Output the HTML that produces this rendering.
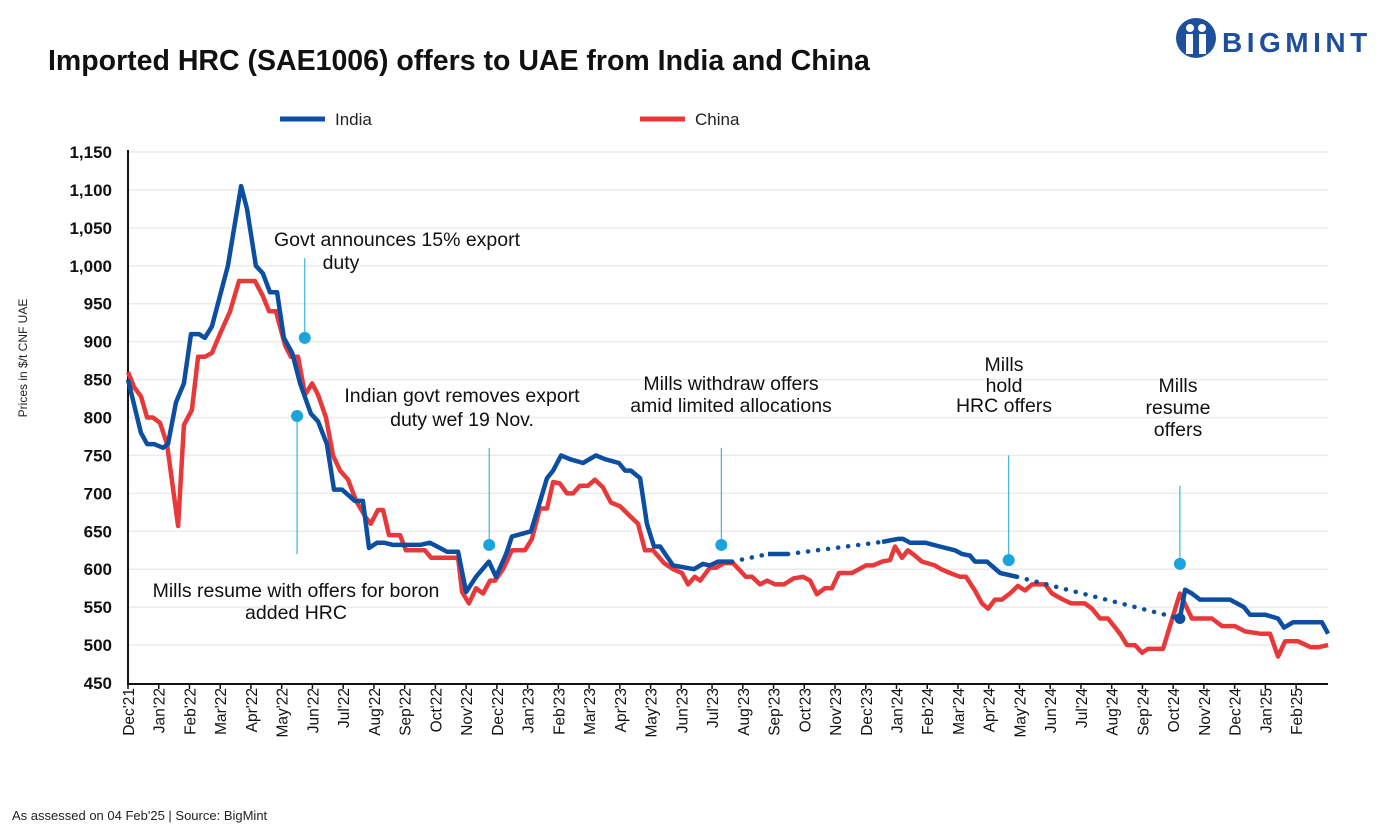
<!DOCTYPE html>
<html><head><meta charset="utf-8"><style>
body{margin:0;background:#fff;font-family:"Liberation Sans",sans-serif}
svg text{font-family:"Liberation Sans",sans-serif}
</style></head><body>
<svg id="chart" width="1387" height="832" viewBox="0 0 1387 832">
<text x="48" y="70" font-size="28.5" font-weight="bold" fill="#111">Imported HRC (SAE1006) offers to UAE from India and China</text>
<g>
<circle cx="1196" cy="38" r="20" fill="#1d4f9c"/>
<circle cx="1190" cy="28" r="4" fill="#fff"/><circle cx="1202" cy="28" r="4" fill="#fff"/>
<rect x="1186" y="34" width="7" height="20" fill="#fff"/><rect x="1199" y="34" width="7" height="20" fill="#fff"/>
<text x="1222" y="52" font-size="28" font-weight="bold" fill="#1d4f9c" letter-spacing="4.5">BIGMINT</text>
</g>
<g>
<line x1="280" y1="119" x2="325" y2="119" stroke="#0b4ea2" stroke-width="5"/>
<text x="335" y="125" font-size="17" fill="#222">India</text>
<line x1="640" y1="119" x2="685" y2="119" stroke="#e8383a" stroke-width="5"/>
<text x="695" y="125" font-size="17" fill="#222">China</text>
</g>
<text transform="translate(27,358) rotate(-90)" text-anchor="middle" font-size="12" fill="#222">Prices in $/t CNF UAE</text>
<g id="grid"></g><g id="axes"></g><g id="annot"></g><g id="series"></g>
<text x="12" y="820" font-size="13" fill="#222">As assessed on 04 Feb'25 | Source: BigMint</text>
</svg>
<script>
const monthLabels=["Dec'21","Jan'22","Feb'22","Mar'22","Apr'22","May'22","Jun'22","Jul'22","Aug'22","Sep'22","Oct'22","Nov'22","Dec'22","Jan'23","Feb'23","Mar'23","Apr'23","May'23","Jun'23","Jul'23","Aug'23","Sep'23","Oct'23","Nov'23","Dec'23","Jan'24","Feb'24","Mar'24","Apr'24","May'24","Jun'24","Jul'24","Aug'24","Sep'24","Oct'24","Nov'24","Dec'24","Jan'25","Feb'25"];
const yTicks=[450,500,550,600,650,700,750,800,850,900,950,1000,1050,1100,1150];
const indiaT=[0,0.42,0.62,0.85,1.14,1.3,1.56,1.82,2.05,2.31,2.5,2.73,3.25,3.68,3.87,4.16,4.39,4.62,4.85,5.07,5.34,5.6,5.95,6.18,6.47,6.7,6.96,7.38,7.64,7.84,8.1,8.33,8.62,9.5,9.82,10.15,10.38,10.74,11,11.32,11.74,11.97,12.3,12.49,13.11,13.63,13.83,14.09,14.38,14.8,15.22,15.52,15.97,16.17,16.36,16.66,16.88,17.11,17.31,17.73,18.41,18.7,18.93,19.19,19.65,20.82,21.47,24.53,25.05,25.21,25.44,25.93,26.41,26.9,27.13,27.39,27.55,27.94,28.37,28.92,34.22,34.39,34.61,34.87,35.85,36.3,36.5,36.99,37.41,37.61,37.9,38.84,39.04];
const indiaV=[850,780,765,765,760,765,820,845,910,910,905,920,1000,1105,1075,1000,990,965,965,905,885,845,805,795,765,705,705,690,690,628,635,635,632,632,635,628,623,623,570,590,610,590,620,643,650,720,730,750,745,740,750,745,740,730,730,720,660,630,630,605,600,607,605,610,610,620,620,636,640,640,635,635,630,625,620,618,610,610,595,590,535,573,568,560,560,550,540,540,535,523,530,530,515];
const indiaDottedAfter=[19.65,21.47,28.92];
const chinaT=[0,0.2,0.42,0.62,0.81,1.04,1.27,1.63,1.82,2.08,2.28,2.5,2.73,2.99,3.32,3.61,4.13,4.39,4.59,4.81,5.11,5.3,5.53,5.76,5.99,6.18,6.44,6.67,6.9,7.16,7.42,7.74,7.9,8.13,8.3,8.49,8.85,9.04,9.66,9.86,10.74,10.87,11.09,11.32,11.55,11.78,11.94,12.2,12.49,12.91,13.14,13.4,13.63,13.83,14.05,14.28,14.48,14.7,14.96,15.19,15.45,15.71,16.01,16.33,16.59,16.82,17.08,17.44,17.73,18.02,18.22,18.44,18.61,18.93,19.13,19.39,19.68,20.1,20.3,20.56,20.79,21.05,21.34,21.66,21.96,22.19,22.41,22.67,22.9,23.13,23.55,23.78,24.01,24.24,24.53,24.79,24.95,25.18,25.37,25.6,25.83,26.25,26.45,26.74,27.07,27.26,27.55,27.78,27.98,28.2,28.43,28.69,28.95,29.18,29.41,29.83,30.06,30.42,30.68,31.13,31.36,31.62,31.88,32.27,32.5,32.76,32.99,33.18,33.67,34.22,34.61,35.26,35.59,36.01,36.34,36.83,37.15,37.41,37.64,38.06,38.48,38.71,39.04];
const chinaV=[860,840,828,800,800,793,765,657,790,810,880,880,885,910,940,980,980,960,940,940,895,880,880,830,845,830,800,750,730,718,690,668,660,678,678,645,645,625,625,615,615,570,555,575,568,585,585,600,625,625,640,680,680,715,713,700,700,710,710,718,708,688,683,670,660,625,625,608,600,595,580,590,585,602,602,608,608,590,590,580,585,580,580,588,590,585,567,575,575,595,595,600,605,605,610,612,630,615,625,618,610,605,600,595,590,590,572,555,548,560,560,568,578,572,580,580,568,560,555,555,548,535,535,515,500,500,490,495,495,568,535,535,525,525,518,515,515,485,505,505,497,497,500];
const markerT=[5.75,5.5,11.75,19.3,28.65,34.22];
const markerV=[905,802,632,632,612,607];
const stemTopV=[1010,null,760,760,750,710];
const stemBotV=[null,620,null,null,null,null];
const NS="http://www.w3.org/2000/svg";
const X0=128,MW=30.74,Y0=683,PY=(683-152)/700;
const xs=t=>X0+t*MW, ys=v=>Y0-(v-450)*PY;
function el(tag,attrs,parent){const e=document.createElementNS(NS,tag);for(const k in attrs)e.setAttribute(k,attrs[k]);parent.appendChild(e);return e;}
const grid=document.getElementById('grid'),axes=document.getElementById('axes'),annot=document.getElementById('annot'),series=document.getElementById('series');
yTicks.forEach(v=>{
 if(v>450){const g=el('line',{x1:X0,x2:1328,y1:ys(v),y2:ys(v),stroke:'#ebebeb','stroke-width':1.5},grid);
 
 }
 const t=el('text',{x:112,y:ys(v)+6,'text-anchor':'end','font-size':17,'font-weight':'bold',fill:'#111'},axes);t.textContent=v.toLocaleString('en-US');
 
 
});
el('line',{x1:X0,x2:X0,y1:150,y2:684,stroke:'#111','stroke-width':2},axes);
el('line',{x1:X0-1,x2:1328,y1:684,y2:684,stroke:'#111','stroke-width':2},axes);
monthLabels.forEach((m,i)=>{
 const x=xs(i);
 el('line',{x1:x,x2:x,y1:684,y2:689,stroke:'#111','stroke-width':1.5},axes);
 const t=el('text',{transform:`translate(${x+6},688) rotate(-90)`,'text-anchor':'end','font-size':15.5,fill:'#111'},axes);t.textContent=m;
 
 
});
markerT.forEach((t,i)=>{
 const x=xs(t),y=ys(markerV[i]);
 if(stemTopV[i]!==null)el('line',{x1:x,x2:x,y1:ys(stemTopV[i]),y2:y,stroke:'#1ba3dd','stroke-width':1},annot);
 if(stemBotV[i]!==null)el('line',{x1:x,x2:x,y1:y,y2:ys(stemBotV[i]),stroke:'#1ba3dd','stroke-width':1},annot);
 const c=el('circle',{cx:x,cy:y,r:6,fill:'#1ba3dd'},annot);
 
 
});
const notes=[[397,246,"Govt announces 15% export"],[341,269,"duty"],[462,402,"Indian govt removes export"],[462,426,"duty wef 19 Nov."],[731,390,"Mills withdraw offers"],[731,412,"amid limited allocations"],[1004,371,"Mills"],[1004,392,"hold"],[1004,412,"HRC offers"],[1178,392,"Mills"],[1178,414,"resume"],[1178,436,"offers"],[296,597,"Mills resume with offers for boron"],[296,619,"added HRC"]];
notes.forEach(n=>{const t=el('text',{x:n[0],y:n[1],'text-anchor':'middle','font-size':19.5,fill:'#111'},annot);t.textContent=n[2];
 
 });
const cp=chinaT.map((t,i)=>xs(t).toFixed(1)+','+ys(chinaV[i]).toFixed(1)).join(' ');
const cl=el('polyline',{points:cp,fill:'none',stroke:'#e8383a','stroke-width':4.5,'stroke-linejoin':'round'},series);


let seg=[];
const flush=()=>{if(seg.length>1){const p=el('polyline',{points:seg.join(' '),fill:'none',stroke:'#0b4ea2','stroke-width':4.5,'stroke-linejoin':'round'},series);
 
 }seg=[];};
indiaT.forEach((t,i)=>{
 seg.push(xs(t).toFixed(1)+','+ys(indiaV[i]).toFixed(1));
 if(indiaDottedAfter.includes(t)&&i<indiaT.length-1){
  flush();
  const d=el('line',{x1:xs(t),y1:ys(indiaV[i]),x2:xs(indiaT[i+1]),y2:ys(indiaV[i+1]),stroke:'#0b4ea2','stroke-width':4.5,'stroke-dasharray':'0.1 10','stroke-linecap':'round'},series);
  
  
 }
});
flush();
const dd=el('circle',{cx:xs(34.22),cy:ys(535),r:5.5,fill:'#0b4ea2'},series);


</script>
</body></html>
